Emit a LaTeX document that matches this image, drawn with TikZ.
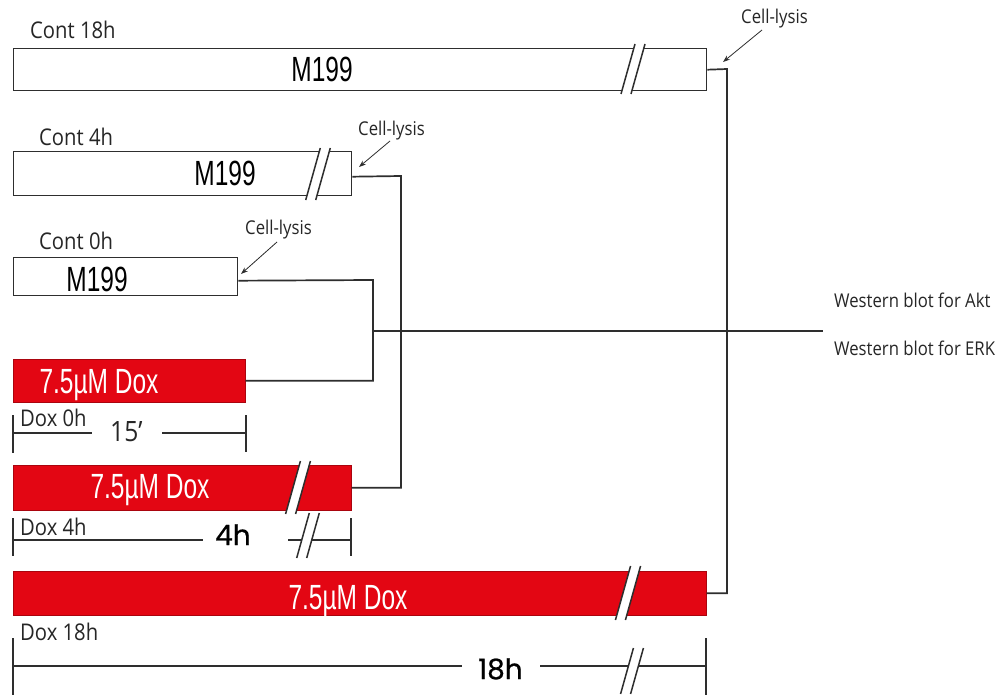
\documentclass[tikz,border=0pt]{standalone}
\usepackage{fontspec}
\usetikzlibrary{arrows.meta,calc}
\setmainfont{Open Sans}
\newfontfamily\labf[FakeStretch=0.88]{Open Sans}
\newfontfamily\condf[FakeStretch=0.7]{Liberation Sans}
\newfontfamily\popf[FakeBold=0.6]{Poppins}
\definecolor{doxred}{HTML}{E30613}
\definecolor{ln}{HTML}{2E2E2E}
\newcommand\brk[3]{%
  \fill[white] ({#1-5-0.14*(#3-#2)},#3) -- ({#1+5-0.14*(#3-#2)},#3) -- ({#1+5+0.14*(#3-#2)},#2) -- ({#1-5+0.14*(#3-#2)},#2) -- cycle;
  \draw[ln,line width=1.5pt] ({#1-5-0.14*(#3-#2)},#3) -- ({#1-5+0.14*(#3-#2)},#2);
  \draw[ln,line width=1.5pt] ({#1+5-0.14*(#3-#2)},#3) -- ({#1+5+0.14*(#3-#2)},#2);}
\begin{document}
\begin{tikzpicture}[x=1pt,y=-1pt,
  wbox/.style={draw=ln,line width=1.4pt,fill=white,anchor=north west,inner sep=0pt},
  rbox/.style={draw=doxred!75!black,line width=0.6pt,fill=doxred,anchor=north west,inner sep=0pt},
  conn/.style={draw=ln,line width=1.7pt},
  arr/.style={draw=ln,line width=0.8pt,-{Stealth[length=7pt,width=5pt]}},
  lab/.style={font=\labf\fontsize{23}{26}\selectfont,text=black!85,anchor=base west,inner sep=0pt},
  small/.style={font=\labf\fontsize{19}{22}\selectfont,text=black!85,anchor=base west,inner sep=0pt},
  mtext/.style={font=\condf\fontsize{35}{40}\selectfont,text=black,anchor=base,inner sep=0pt},
  dtext/.style={font=\condf\fontsize{35}{40}\selectfont,text=white,anchor=base,inner sep=0pt},
  dur/.style={font=\popf\fontsize{28}{32}\selectfont,text=black,anchor=base west,inner sep=0pt},
  tick/.style={draw=ln,line width=1.7pt}]
\useasboundingbox (0,0) rectangle (1002,695);
\fill[white] (0,0) rectangle (1002,695);

% boxes
\node[wbox,minimum width=693pt,minimum height=42pt] (c18) at (13,48) {};
\node[wbox,minimum width=338pt,minimum height=44pt] (c4) at (13,151) {};
\node[wbox,minimum width=224pt,minimum height=38pt] (c0) at (13,257) {};
\node[rbox,minimum width=232pt,minimum height=43pt] (d0) at (13,359) {};
\node[rbox,minimum width=338pt,minimum height=45pt] (d4) at (13,465) {};
\node[rbox,minimum width=693pt,minimum height=44pt] (d18) at (13,571) {};

% breaks in boxes
\brk{633}{44}{94}
\brk{318}{148}{200}
\brk{298}{461}{514}
\brk{628}{566}{620}

% box texts
\node[mtext] (m18) at (322,82) {M199};
\node[mtext] (m4) at (225,186) {M199};
\node[mtext] (m0) at (97,291) {M199};
\node[dtext] (t0) at (99,393) {7.5µM Dox};
\node[dtext] (t4) at (150,498) {7.5µM Dox};
\node[dtext] (t18) at (348,609) {7.5µM Dox};

% labels
\node[lab] (l18) at (30,39) {Cont 18h};
\node[lab] (l4) at (39,146) {Cont 4h};
\node[lab] (l0) at (39,250) {Cont 0h};
\node[lab] (ld0) at (20,426) {Dox 0h};
\node[lab] (ld4) at (20,535) {Dox 4h};
\node[lab] (ld18) at (20,640) {Dox 18h};

% cell lysis
\node[small] (cl1) at (741,24) {Cell-lysis};
\node[small] (cl2) at (358,136) {Cell-lysis};
\node[small] (cl3) at (245,235) {Cell-lysis};
\draw[arr] (762,30) -- (723,62);
\draw[arr] (390,141) -- (359,167);
\draw[arr] (277,242) -- (241,274);

% connectors
\coordinate (hub) at (373,331);
\coordinate (wb) at (823,331);
\draw[conn] (c18.east) -- (727,69) |- (d18.east);
\draw[conn] ($(c4.east)+(0,3)$) -- (401,176) |- (d4.east);
\draw[conn] ($(c0.east)+(0,4)$) -- (373,280) |- (d0.east);
\draw[conn] (hub) -- (wb);
\node[small] (wa) at (834,308) {Western blot for Akt};
\node[small] (we) at (834,355) {Western blot for ERK};

% durations
\draw[tick] (13,415) -- (13,453);
\draw[tick] (13,433) -- (92,433);
\draw[tick] (162,433) -- (246,433);
\draw[tick] (246,415) -- (246,452);
\node[font=\labf\fontsize{28}{32}\selectfont,text=black!85,anchor=base west,inner sep=0pt] (q15) at (110,441) {15’};

\draw[tick] (13,518) -- (13,556);
\draw[tick] (13,540) -- (203,540);
\draw[tick] (288,540) -- (351,540);
\draw[tick] (351,518) -- (351,556);
\brk{308}{513}{558}
\node[dur] (h4) at (215,545) {4h};

\draw[tick] (13,638) -- (13,695);
\draw[tick] (13,666) -- (462,666);
\draw[tick] (540,666) -- (706,666);
\draw[tick] (706,638) -- (706,695);
\brk{632}{648}{694}
\node[dur] (h18) at (478,679) {18h};
\end{tikzpicture}
\end{document}
